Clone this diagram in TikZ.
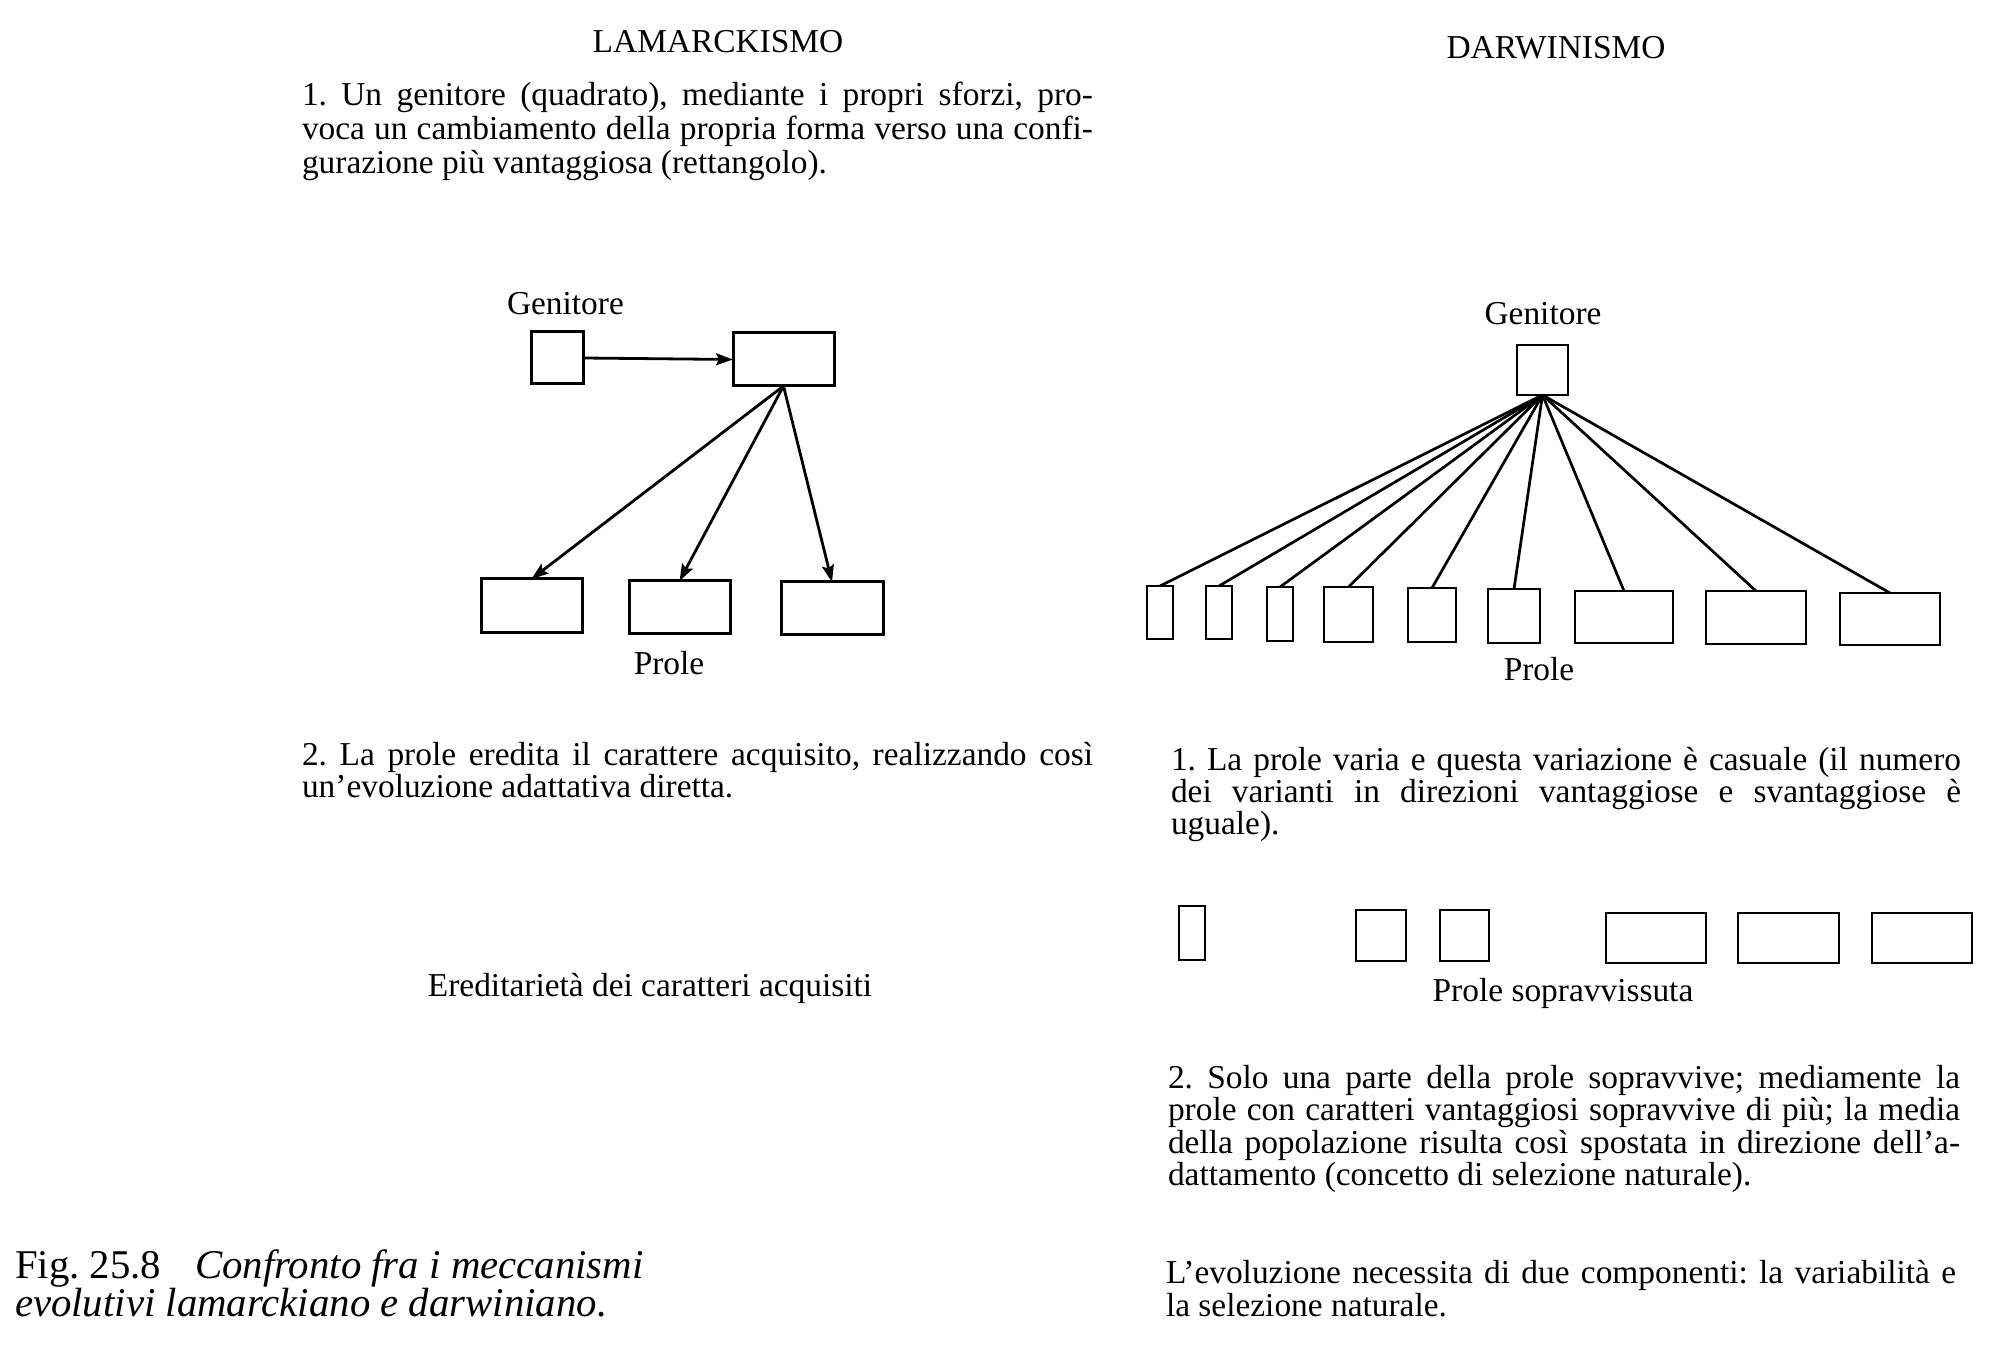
\documentclass[tikz,border=0pt]{standalone}
\usepackage{fontspec}
\setmainfont{Liberation Serif}
\usetikzlibrary{arrows.meta}
\frenchspacing
\begin{document}
\begin{tikzpicture}[x=0.5pt,y=-0.5pt,
  txt/.style={inner sep=0pt, outer sep=0pt, anchor=base west, font=\fontsize{16.7}{17}\selectfont},
  ctxt/.style={txt, anchor=base},
  captxt/.style={inner sep=0pt, outer sep=0pt, anchor=base west, align=left, font={\fontsize{20.4}{19}\selectfont\lineskiplimit=-30pt}},
  box/.style={draw, line width=1.5pt, inner sep=0pt, outer sep=0pt},
  arr/.style={line width=1.4pt, -{Stealth[length=8.5pt,width=6pt,inset=1.5pt]}},
  ray/.style={line width=1.35pt},
]
\fill[white] (0,0) rectangle (1998,1368);
\useasboundingbox (0,0) rectangle (1998,1368);

% ---------- headings ----------
\node[ctxt] (hL) at (718,53) {LAMARCKISMO};
\node[ctxt] (hD) at (1556,59) {DARWINISMO};

% ---------- left text ----------
\node[txt] (lp1a) at (302,106) {\makebox[395.5pt][s]{1. Un genitore (quadrato), mediante i propri sforzi, pro-}};
\node[txt] (lp1b) at (302,140) {\makebox[395.5pt][s]{voca un cambiamento della propria forma verso una confi-}};
\node[txt] (lp1c) at (302,174) {gurazione più vantaggiosa (rettangolo).};

\node[txt] (lp2a) at (302,766) {\makebox[395.5pt][s]{2. La prole eredita il carattere acquisito, realizzando così}};
\node[txt] (lp2b) at (302,798) {un’evoluzione adattativa diretta.};

\node[ctxt] (lered) at (650,996) {Ereditarietà dei caratteri acquisiti};

% ---------- caption (base anchor = baseline of its last line) ----------
\node[captxt] (cap) at (15,1316) {Fig. 25.8\hspace{17pt}\textit{Confronto fra i meccanismi}\\\textit{evolutivi lamarckiano e darwiniano.}};

% ---------- left diagram ----------
\node[txt] (lgen) at (507,315) {Genitore};
\node[box, minimum width=26pt, minimum height=26pt] (sq) at (557,358) {};
\node[box, minimum width=50.5pt, minimum height=26.5pt] (rc) at (783.5,359.5) {};
\node[box, minimum width=50.5pt, minimum height=27pt] (lc1) at (531.5,606) {};
\node[box, minimum width=50.5pt, minimum height=26.5pt] (lc2) at (679.5,607.5) {};
\node[box, minimum width=51pt, minimum height=26.5pt] (lc3) at (832,608.5) {};
\node[ctxt] (lprole) at (669,675) {Prole};

\draw[arr] (sq.east) -- (rc.west);
\draw[arr] (rc.south) -- (lc1.north);
\draw[arr] (rc.south) -- (lc2.north);
\draw[arr] (rc.south) -- (lc3.north);

% ---------- right diagram ----------
\node[ctxt] (rgen) at (1543,325) {Genitore};
\node[box, line width=1.4pt, minimum width=25.5pt, minimum height=25pt] (P) at (1542.5,370) {};

\node[box, line width=1.4pt, minimum width=13pt, minimum height=26.5pt] (c1) at (1160,612.5) {};
\node[box, line width=1.4pt, minimum width=13pt, minimum height=26.5pt] (c2) at (1219,612.5) {};
\node[box, line width=1.4pt, minimum width=13pt, minimum height=27pt] (c3) at (1280,614) {};
\node[box, line width=1.4pt, minimum width=24.5pt, minimum height=27.5pt] (c4) at (1348.5,614.5) {};
\node[box, line width=1.4pt, minimum width=24pt, minimum height=27pt] (c5) at (1432,615) {};
\node[box, line width=1.4pt, minimum width=26pt, minimum height=27pt] (c6) at (1514,616) {};
\node[box, line width=1.4pt, minimum width=49pt, minimum height=26pt] (c7) at (1624,617) {};
\node[box, line width=1.4pt, minimum width=50pt, minimum height=26.5pt] (c8) at (1756,617.5) {};
\node[box, line width=1.4pt, minimum width=50pt, minimum height=26pt] (c9) at (1890,619) {};
\foreach \c in {c1,c2,c3,c4,c5,c6,c7,c8,c9}
  \draw[ray] (P.south) -- (\c.north);
\node[ctxt] (rprole) at (1539,681) {Prole};

\node[txt] (rp1a) at (1171,771) {\makebox[395pt][s]{1. La prole varia e questa variazione è casuale (il numero}};
\node[txt] (rp1b) at (1171,803) {\makebox[395pt][s]{dei varianti in direzioni vantaggiose e svantaggiose è}};
\node[txt] (rp1c) at (1171,835) {uguale).};

\node[box, line width=1.4pt, minimum width=13pt, minimum height=27pt] (s1) at (1192,933) {};
\node[box, line width=1.4pt, minimum width=25pt, minimum height=25.5pt] (s2) at (1381,935.5) {};
\node[box, line width=1.4pt, minimum width=24.5pt, minimum height=25.5pt] (s3) at (1464.5,935.5) {};
\node[box, line width=1.4pt, minimum width=50pt, minimum height=25pt] (s4) at (1656,938) {};
\node[box, line width=1.4pt, minimum width=50.5pt, minimum height=25pt] (s5) at (1788.5,938) {};
\node[box, line width=1.4pt, minimum width=50pt, minimum height=25pt] (s6) at (1922,938) {};
\node[ctxt] (rsopr) at (1563,1001) {Prole sopravvissuta};

\node[txt] (rp2a) at (1168,1088) {\makebox[396pt][s]{2. Solo una parte della prole sopravvive; mediamente la}};
\node[txt] (rp2b) at (1168,1120) {\makebox[396pt][s]{prole con caratteri vantaggiosi sopravvive di più; la media}};
\node[txt] (rp2c) at (1168,1153) {\makebox[396pt][s]{della popolazione risulta così spostata in direzione dell’a-}};
\node[txt] (rp2d) at (1168,1185) {dattamento (concetto di selezione naturale).};

\node[txt] (rp3a) at (1166,1283) {\makebox[395pt][s]{L’evoluzione necessita di due componenti: la variabilità e}};
\node[txt] (rp3b) at (1166,1316) {la selezione naturale.};
\end{tikzpicture}
\end{document}
